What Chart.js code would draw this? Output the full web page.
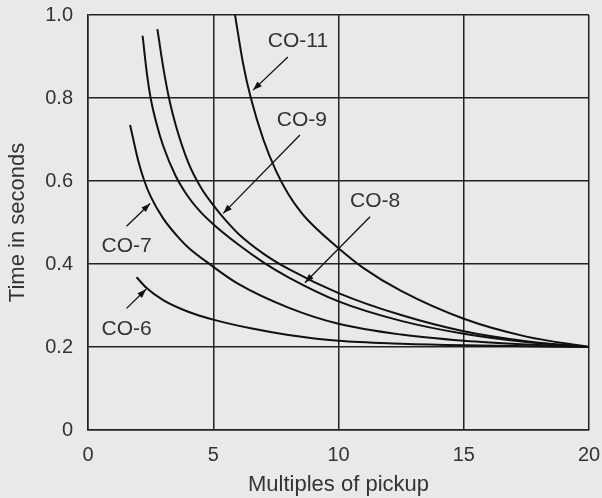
<!DOCTYPE html>
<html lang="en">
<head>
<meta charset="UTF-8">
<script src="https://cdn.jsdelivr.net/npm/chart.js"></script>
<title>Relay curves</title>
<style>
  body { margin: 0; background: #e8e9eb; }
  canvas { display: block; }
</style>
</head>
<body>
<canvas id="grafico" width="602" height="498"></canvas>
<script>
// curves: multiples of pickup -> time in seconds
const co6X = [1.94, 2.34, 3, 4, 5, 6.5, 8, 10, 12.5, 15, 20];
const co6Y = [0.368, 0.342, 0.313, 0.285, 0.266, 0.245, 0.229, 0.215, 0.208, 0.204, 0.2];

const co7X = [1.68, 2.0, 2.25, 2.5, 3.0, 3.67, 4.0, 4.85, 6.0, 8.0, 10, 12.5, 15, 17.5, 20];
const co7Y = [0.735, 0.65, 0.60, 0.563, 0.51, 0.46, 0.44, 0.40, 0.352, 0.295, 0.256, 0.23, 0.215, 0.206, 0.2];

const co8X = [2.18, 2.35, 2.5, 2.75, 3.0, 3.5, 4.0, 4.5, 5, 6, 7, 8, 10, 12.5, 15, 17.5, 20];
const co8Y = [0.95, 0.86, 0.80, 0.735, 0.685, 0.612, 0.562, 0.525, 0.496, 0.447, 0.404, 0.368, 0.31, 0.263, 0.232, 0.212, 0.2];

const co9X = [2.77, 3.0, 3.25, 3.5, 4.0, 4.5, 5.0, 5.5, 6.0, 7.0, 8.0, 10, 12.5, 15, 17.5, 20];
const co9Y = [0.966, 0.875, 0.795, 0.735, 0.645, 0.585, 0.542, 0.505, 0.473, 0.425, 0.388, 0.33, 0.277, 0.238, 0.214, 0.2];

const co11X = [5.87, 6.2, 6.5, 7.0, 7.5, 8.0, 8.5, 9.0, 10, 11, 12.5, 15, 17.5, 20];
const co11Y = [1.0, 0.88, 0.80, 0.70, 0.625, 0.568, 0.525, 0.492, 0.438, 0.39, 0.335, 0.268, 0.225, 0.2];

const xTicks = [0, 5, 10, 15, 20];
const yTicks = [0, 0.2, 0.4, 0.6, 0.8, 1.0];

// curve labels with their arrows (data coordinates)
const notes = [
  { text: 'CO-11', at: [8.38, 0.937], from: [7.98, 0.899], to: [6.59, 0.819] },
  { text: 'CO-9', at: [8.54, 0.747], from: [8.46, 0.711], to: [5.40, 0.522] },
  { text: 'CO-8', at: [11.46, 0.551], from: [11.26, 0.514], to: [8.66, 0.355] },
  { text: 'CO-7', at: [1.54, 0.442], from: [1.54, 0.491], to: [2.48, 0.546] },
  { text: 'CO-6', at: [1.54, 0.244], from: [1.54, 0.293], to: [2.32, 0.339] }
];

function pares(xs, ys) {
  return xs.map((v, i) => ({ x: v, y: ys[i] }));
}

function curva(xs, ys) {
  return {
    data: pares(xs, ys),
    showLine: true,
    borderColor: '#111',
    borderWidth: 2,
    pointRadius: 0,
    cubicInterpolationMode: 'monotone'
  };
}

const notas = {
  id: 'notas',
  afterDatasetsDraw(chart) {
    const { ctx, scales: { x, y } } = chart;
    ctx.save();
    ctx.strokeStyle = '#111';
    ctx.fillStyle = '#111';
    ctx.lineWidth = 1.3;
    notes.forEach(n => {
      const x0 = x.getPixelForValue(n.from[0]), y0 = y.getPixelForValue(n.from[1]);
      const x1 = x.getPixelForValue(n.to[0]), y1 = y.getPixelForValue(n.to[1]);
      ctx.beginPath();
      ctx.moveTo(x0, y0);
      ctx.lineTo(x1, y1);
      ctx.stroke();
      const ang = Math.atan2(y1 - y0, x1 - x0);
      ctx.beginPath();
      ctx.moveTo(x1, y1);
      ctx.lineTo(x1 - 9 * Math.cos(ang) + 3.2 * Math.sin(ang), y1 - 9 * Math.sin(ang) - 3.2 * Math.cos(ang));
      ctx.lineTo(x1 - 9 * Math.cos(ang) - 3.2 * Math.sin(ang), y1 - 9 * Math.sin(ang) + 3.2 * Math.cos(ang));
      ctx.closePath();
      ctx.fill();
    });
    ctx.fillStyle = '#333';
    ctx.font = '21px "Liberation Sans", Arial, sans-serif';
    ctx.textAlign = 'center';
    ctx.textBaseline = 'middle';
    notes.forEach(n => {
      ctx.fillText(n.text, x.getPixelForValue(n.at[0]), y.getPixelForValue(n.at[1]));
    });
    ctx.restore();
  }
};

const fonte = '"Liberation Sans", Arial, sans-serif';

new Chart(document.getElementById('grafico'), {
  type: 'scatter',
  data: {
    datasets: [
      curva(co6X, co6Y),
      curva(co7X, co7Y),
      curva(co8X, co8Y),
      curva(co9X, co9Y),
      curva(co11X, co11Y)
    ]
  },
  options: {
    responsive: false,
    animation: false,
    devicePixelRatio: 1,
    layout: { padding: { top: 15, right: 13, left: 0, bottom: 0 } },
    plugins: {
      legend: { display: false },
      tooltip: { enabled: false }
    },
    scales: {
      x: {
        type: 'linear',
        min: 0,
        max: 20,
        afterBuildTicks: s => { s.ticks = xTicks.map(v => ({ value: v })); },
        afterFit: s => { s.height = 68; s.paddingLeft = 0; s.paddingRight = 0; },
        ticks: { color: '#333', font: { family: fonte, size: 20 }, padding: 13 },
        grid: { color: '#222', lineWidth: 1.5, drawTicks: false },
        border: { color: '#222', width: 1.5 },
        title: {
          display: true,
          text: 'Multiples of pickup',
          color: '#333',
          font: { family: fonte, size: 22 },
          padding: 0
        }
      },
      y: {
        min: 0,
        max: 1,
        afterBuildTicks: s => { s.ticks = yTicks.map(v => ({ value: v })); },
        afterFit: s => { s.width = 88; s.paddingTop = 0; s.paddingBottom = 0; },
        ticks: {
          color: '#333',
          font: { family: fonte, size: 20 },
          padding: 15,
          callback: v => v === 0 ? '0' : v.toFixed(1)
        },
        grid: { color: '#222', lineWidth: 1.5, drawTicks: false },
        border: { color: '#222', width: 1.5 },
        title: {
          display: true,
          text: 'Time in seconds',
          color: '#333',
          font: { family: fonte, size: 22 },
          padding: 5
        }
      }
    }
  },
  plugins: [notas]
});
</script>
</body>
</html>
